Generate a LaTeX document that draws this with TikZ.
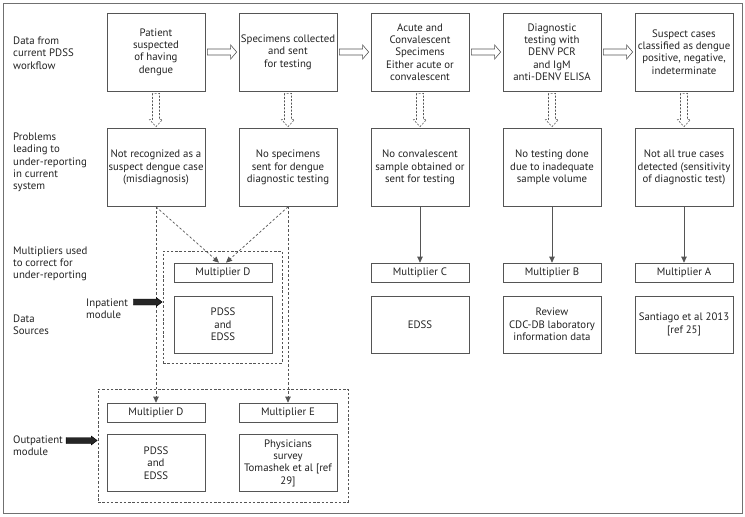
\documentclass[tikz,border=0pt]{standalone}
\usepackage{fontspec}
\setmainfont{PT Sans}
\usetikzlibrary{arrows.meta,calc}

\definecolor{linegray}{HTML}{555555}
\definecolor{framegray}{HTML}{707070}
\definecolor{textgray}{HTML}{222222}

\tikzset{
  box/.style={draw=linegray, line width=0.7pt, minimum width=98pt, align=center,
    inner sep=0.5pt, text=textgray, font=\fontsize{10.8}{12.3}\selectfont},
  tall/.style={box, minimum height=78pt},
  mult/.style={box, minimum height=19pt},
  src/.style={box, minimum height=57pt},
  dbox/.style={draw=linegray, line width=0.6pt, dash pattern=on 2.5pt off 1.8pt},
  lbl/.style={anchor=west, align=left, inner sep=0pt, text=textgray,
    font=\fontsize{10.8}{12.3}\selectfont},
  link/.style={draw=linegray, line width=0.7pt, -{Triangle[length=6pt,width=5.5pt]}},
  dlink/.style={link, dash pattern=on 2.5pt off 2pt},
  % hollow block arrows
  hright/.style={draw=linegray, line width=0.6pt, to path={
    ($(\tikztostart)+(0,-3)$) -- ($(\tikztotarget)+(-6,-3)$) -- ($(\tikztotarget)+(-6,-7)$)
    -- (\tikztotarget) -- ($(\tikztotarget)+(-6,7)$) -- ($(\tikztotarget)+(-6,3)$)
    -- ($(\tikztostart)+(0,3)$) -- cycle}},
  hdown/.style={draw=linegray, line width=0.6pt, dash pattern=on 2pt off 1.5pt, to path={
    ($(\tikztostart)+(-3.5,0)$) -- ($(\tikztotarget)+(-3.5,-7)$) -- ($(\tikztotarget)+(-6.5,-7)$)
    -- (\tikztotarget) -- ($(\tikztotarget)+(6.5,-7)$) -- ($(\tikztotarget)+(3.5,-7)$)
    -- ($(\tikztostart)+(3.5,0)$) -- cycle}},
  fright/.style={fill=black!85, to path={
    ($(\tikztostart)+(0,-3)$) -- ($(\tikztotarget)+(-6,-3)$) -- ($(\tikztotarget)+(-6,-4.5)$)
    -- (\tikztotarget) -- ($(\tikztotarget)+(-6,4.5)$) -- ($(\tikztotarget)+(-6,3)$)
    -- ($(\tikztostart)+(0,3)$) -- cycle}}
}

\begin{document}
\begin{tikzpicture}[x=1pt,y=-1pt]
\useasboundingbox (0,0) rectangle (745,517);
\draw[framegray, line width=0.8pt] (3,3) rectangle (742,513);
% Row labels
\node[lbl] (l1) at (13,53) {Data from\\current PDSS\\workflow};
\node[lbl] (l2) at (13,162.5) {Problems\\leading to\\under-reporting\\in current\\system};
\node[lbl] (l3) at (13,264) {Multipliers used\\to correct for\\under-reporting};
\node[lbl] (l4) at (13,325) {Data\\Sources};
% Workflow
\node[tall] (w1) at (156,52) {Patient\\suspected\\of having\\dengue};
\node[tall] (w2) at (288,52) {Specimens collected\\and sent\\for testing};
\node[tall] (w3) at (420,52) {Acute and\\Convalescent\\Specimens\\Either acute or\\convalescent};
\node[tall] (w4) at (552,52) {Diagnostic\\testing with\\DENV PCR\\and IgM\\anti-DENV ELISA};
\node[tall] (w5) at (684,52) {Suspect cases\\classified as dengue\\positive, negative,\\indeterminate};
% Problems
\node[tall] (p1) at (156,167.5) {Not recognized as a\\suspect dengue case\\(misdiagnosis)};
\node[tall] (p2) at (288,167.5) {No specimens\\sent for dengue\\diagnostic testing};
\node[tall] (p3) at (420,167.5) {No convalescent\\sample obtained or\\sent for testing};
\node[tall] (p4) at (552,167.5) {No testing done\\due to inadequate\\sample volume};
\node[tall] (p5) at (684,167.5) {Not all true cases\\detected (sensitivity\\of diagnostic test)};
% Multipliers and sources
\node[mult] (mC) at (420,272.5) {Multiplier C};
\node[mult] (mB) at (552,272.5) {Multiplier B};
\node[mult] (mA) at (684,272.5) {Multiplier A};
\node[src] (sC) at (420,324.5) {EDSS};
\node[src] (sB) at (552,324.5) {Review\\CDC-DB laboratory\\information data};
\node[src] (sA) at (684,324.5) {Santiago et al 2013\\{[ref 25]}};
% Inpatient module
\node[dbox, minimum width=119pt, minimum height=112pt] (inmod) at (222.5,307) {};
\node[mult] (inD) at (223,272.5) {Multiplier D};
\node[src] (inS) at (223,324.5) {PDSS\\and\\EDSS};
\node[lbl] (inlab) at (86,308.5) {Inpatient\\module};
% Outpatient module
\node[dbox, minimum width=250pt, minimum height=113pt] (outmod) at (223,445.5) {};
\node[mult] (outD) at (156,412.5) {Multiplier D};
\node[mult] (outE) at (288,412.5) {Multiplier E};
\node[src] (outS) at (156,463) {PDSS\\and\\EDSS};
\node[src] (outP) at (288,463) {Physicians\\survey\\Tomashek et al [ref\\29]};
\node[lbl] (outlab) at (13,446) {Outpatient\\module};
% Arrows
\foreach \a/\b in {w1/w2,w2/w3,w3/w4,w4/w5}
  \draw[hright] ($(\a.east)+(2,0)$) to ($(\b.west)+(-2,0)$);
\foreach \a/\b in {w1/p1,w2/p2,w3/p3,w4/p4,w5/p5}
  \draw[hdown] ($(\a.south)+(0,2)$) to ($(\b.north)+(0,-1.5)$);
\foreach \a/\b in {p3/mC,p4/mB,p5/mA}
  \draw[link] (\a.south) -- (\b.north);
\coordinate (dL) at ($(inD.north)+(-4,0)$);
\coordinate (dR) at ($(inD.north)+(3,0)$);
\draw[dlink] (p1.south) -- (dL);
\draw[dlink] (p2.south) -- (dR);
\draw[dlink] (p1.south) -- (outD.north);
\draw[dlink] (p2.south) -- (outE.north);
\coordinate (inA) at ($(inlab.east)+(5,-6.5)$);
\coordinate (outA) at ($(outlab.east)+(3,-5.5)$);
\draw[fright] (inA) to ($(inA -| inmod.west)+(-0.5,0)$);
\draw[fright] (outA) to ($(outA -| outmod.west)+(-0.5,0)$);
\end{tikzpicture}
\end{document}
